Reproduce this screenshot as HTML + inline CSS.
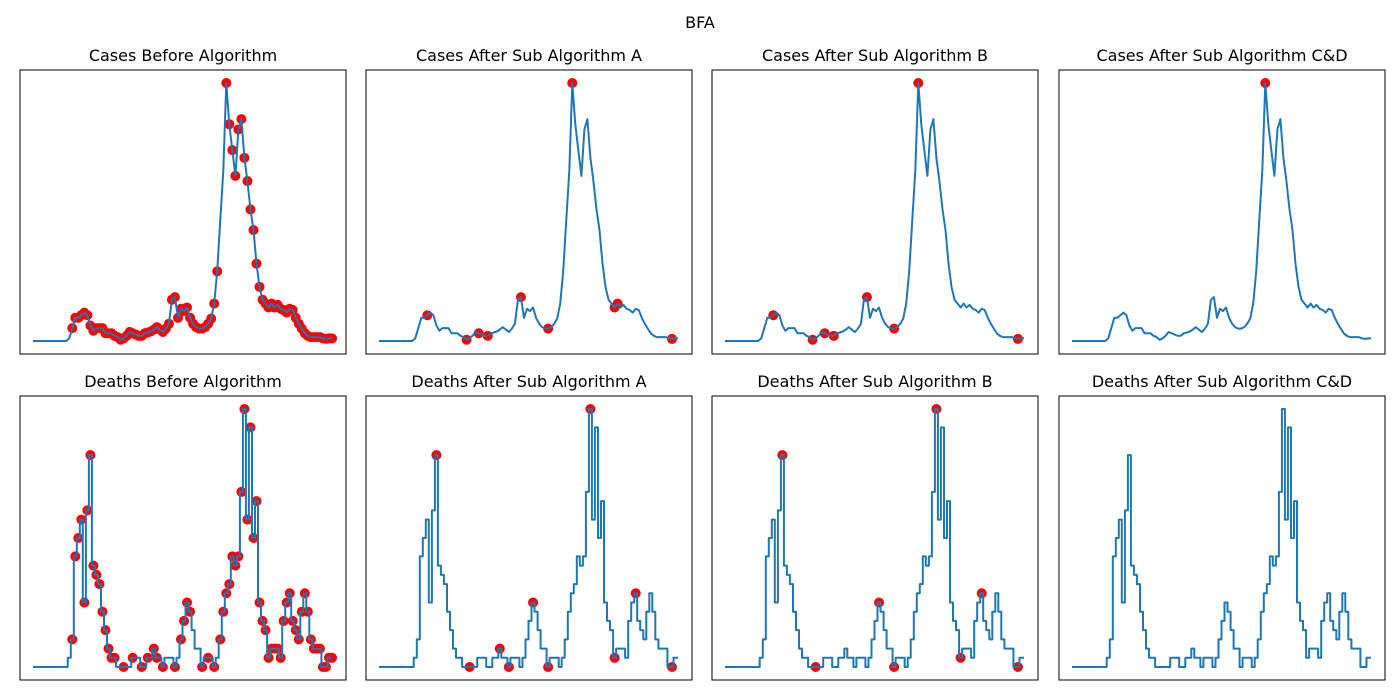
<!DOCTYPE html>
<html><head><meta charset="utf-8"><style>
body{margin:0;background:#fff;}
svg{display:block;font-family:"DejaVu Sans","Liberation Sans",sans-serif;}
</style></head><body>
<svg id="fig" width="1400" height="700" viewBox="0 0 1400 700" xmlns="http://www.w3.org/2000/svg">
<rect width="1400" height="700" fill="#fff"/>
<text x="700" y="28" text-anchor="middle" font-size="16">BFA</text>
</svg>
<script>
const cases=[0,0,0,0,0,0,0,0,0,0,0,0,1,5,9,9,10,11,10,6,4,5,5,5,3,3,3,2,1.5,0.5,1,2,3.5,3,2.5,2,2,3,3.3,3.7,4.4,5.4,4.4,3.5,4.8,6.7,16,17,9,12.5,11.6,13,9,6.7,5.4,4.8,4.8,5.4,6.7,8.7,14.5,27,47,66,100,84,74,64,82,86,71,62,51,43,30,21,16,14.5,13,14.5,13,14,12.5,12,11,12.5,12,9,6.7,4.8,3,2,1.5,1.5,1.5,1.5,1,0.8,1,1];
const deaths=[0,0,0,0,0,0,0,0,0,0,0,0,1,3,12,14,16,7,17,23,11,10,9,6,4,2,1,1,0,0,0,0,0,1,1,1,0,0,1,1,2,1,1,0,1,1,1,0,1,3,5,7,6,4,2,2,0,1,1,1,0,1,3,6,8,9,12,11,12,19,28,16,26,14,18,7,5,4,1,2,2,2,1,5,7,8,5,4,3,6,8,6,3,2,2,2,0,0,1,1];
const casesMax=100, deathsMax=28;
const casesBeforeIdx=[];for(let i=13;i<=99;i++){if(i<62||i>63)casesBeforeIdx.push(i);}
const casesAIdx=[16,29,33,36,47,56,64,78,79,97];
const casesBIdx=[16,29,33,36,47,56,64,97];
const casesCDIdx=[64];
const deathsBeforeIdx=[13,14,15,16,17,18,19,20,21,22,23,24,25,26,27,30,33,36,38,40,41,43,47,49,50,51,52,56,58,60];
for(let i=62;i<=99;i++)deathsBeforeIdx.push(i);
const deathsAIdx=[19,30,40,43,51,56,70,78,85,97];
const deathsBIdx=[19,30,51,56,70,78,85,97];
const deathsCDIdx=[];
const titles=["Cases Before Algorithm","Cases After Sub Algorithm A","Cases After Sub Algorithm B","Cases After Sub Algorithm C&D","Deaths Before Algorithm","Deaths After Sub Algorithm A","Deaths After Sub Algorithm B","Deaths After Sub Algorithm C&D"];
const NS="http://www.w3.org/2000/svg";
const svg=document.getElementById('fig');
const colX=[20,366,712,1059], rowY=[70,396], PW=326, PH=284;
function mk(t,a){const e=document.createElementNS(NS,t);for(const k in a)e.setAttribute(k,a[k]);return e;}
function panel(k,data,max,idx,step){
  const px=colX[k%4], py=rowY[Math.floor(k/4)];
  const g=mk('g',{});
  
  
  const xs=i=>px+13+i*(299/(data.length-1));
  const ys=v=>py+271-v/max*258;
  idx.forEach(i=>{const c=mk('circle',{cx:xs(i),cy:ys(data[i]),r:5,fill:'#ff0000'});
    
    
    g.appendChild(c);});
  let d='';
  data.forEach((v,i)=>{
    if(i===0){d+='M'+xs(0).toFixed(1)+','+ys(v).toFixed(1);return;}
    if(step){const xm=(xs(i-1)+xs(i))/2;d+='L'+xm.toFixed(1)+','+ys(data[i-1]).toFixed(1)+'L'+xm.toFixed(1)+','+ys(v).toFixed(1);}
    d+='L'+xs(i).toFixed(1)+','+ys(v).toFixed(1);
  });
  const p=mk('path',{d:d,fill:'none',stroke:'#1f77b4','stroke-width':2,'stroke-linejoin':'round'});
  
  
  g.appendChild(p);
  const r=mk('rect',{x:px,y:py,width:PW,height:PH,fill:'none',stroke:'#000','stroke-width':1});
  
  
  g.appendChild(r);
  const t=mk('text',{x:px+PW/2,y:py-9,'text-anchor':'middle','font-size':16});
  t.textContent=titles[k];
  
  
  g.appendChild(t);
  svg.appendChild(g);
}
panel(0,cases,casesMax,casesBeforeIdx,false);
panel(1,cases,casesMax,casesAIdx,false);
panel(2,cases,casesMax,casesBIdx,false);
panel(3,cases,casesMax,casesCDIdx,false);
panel(4,deaths,deathsMax,deathsBeforeIdx,true);
panel(5,deaths,deathsMax,deathsAIdx,true);
panel(6,deaths,deathsMax,deathsBIdx,true);
panel(7,deaths,deathsMax,deathsCDIdx,true);
</script>
</body></html>
